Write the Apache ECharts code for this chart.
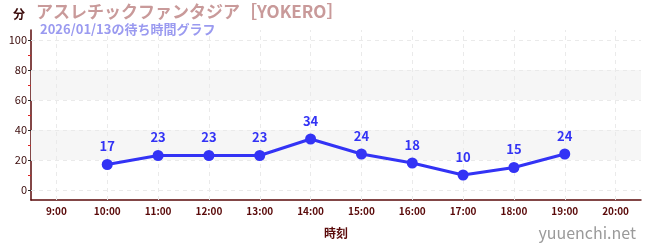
<!DOCTYPE html>
<html><head><meta charset="utf-8">
<script src="https://cdn.jsdelivr.net/npm/echarts@6/dist/echarts.min.js"></script>
<style>html,body{margin:0;padding:0;background:#fff}#c{width:650px;height:250px}</style>
</head><body><div id="c"></div>
<script>
const categories = ['9:00','10:00','11:00','12:00','13:00','14:00','15:00','16:00','17:00','18:00','19:00','20:00'];
const waitTimes = [null,17,23,23,23,34,24,18,10,15,24,null];
const yTicks = [0,20,40,60,80,100];
const yMinorTicks = [10,30,50,70,90];
const bands = [[20,40],[60,80]];
const titleText = 'アスレチックファンタジア［YOKERO］';
const subtitleText = '2026/01/13の待ち時間グラフ';
const yName = '分';
const xName = '時刻';
const watermark = 'yuuenchi.net';

const FONT = '"Noto Sans CJK JP", "Noto Sans", sans-serif';
const axisColor = '#5a0a0a';
const chart = echarts.init(document.getElementById('c'), null, {renderer:'canvas'});
chart.setOption({
  animation:false,
  textStyle:{fontFamily:FONT},
  title:[
    {text:titleText, left:36, top:3, padding:0, textStyle:{color:'#c99a9a', fontSize:17, fontWeight:'bold', fontFamily:FONT}},
    {text:subtitleText, left:40, top:23, padding:0, textStyle:{color:'#9a9af0', fontSize:13, fontWeight:'bold', fontFamily:FONT}},
    {text:yName, left:13, top:8, padding:0, textStyle:{color:'#3a0a0a', fontSize:12, fontWeight:'bold', fontFamily:FONT}},
    {text:watermark, right:14, top:225, padding:0, textStyle:{color:'#9a9a9a', fontSize:16, fontWeight:'normal', fontFamily:FONT}}
  ],
  grid:{left:31, right:9, top:30, bottom:50, containLabel:false},
  xAxis:{
    type:'category', data:categories, boundaryGap:true,
    name:xName, nameLocation:'middle', nameGap:27,
    nameTextStyle:{color:axisColor, fontSize:12, fontWeight:'bold', fontFamily:FONT},
    axisLine:{onZero:false, lineStyle:{color:axisColor, width:1.5}},
    axisTick:{show:true, alignWithLabel:true, inside:true, length:4, lineStyle:{color:'#666'}},
    axisLabel:{color:axisColor, fontSize:10, fontWeight:'bold', fontFamily:FONT, margin:6},
    splitLine:{show:false}
  },
  yAxis:[{
    type:'value', min:-20/3, max:320/3,
    axisLine:{show:true, onZero:false, lineStyle:{color:axisColor, width:1.5}},
    axisTick:{show:true, customValues:yTicks, length:3, lineStyle:{color:'#222'}},
    axisLabel:{customValues:yTicks, color:'#3a0a0a', fontSize:11, fontFamily:FONT, margin:4},
    splitLine:{show:false}
  },{
    type:'value', min:-20/3, max:320/3, position:'left',
    axisLine:{show:false, onZero:false},
    axisTick:{show:true, customValues:yMinorTicks, length:3, lineStyle:{color:'#dd2222'}},
    axisLabel:{show:false},
    splitLine:{show:false}
  }],
  series:[{
    type:'line', data:waitTimes, yAxisIndex:0,
    color:'#3333f5',
    lineStyle:{width:3, color:'#3333f5'},
    symbol:'circle', symbolSize:11,
    itemStyle:{color:'#3333f5'},
    label:{show:true, position:'top', distance:6, color:'#3333f5', fontSize:13, fontWeight:'bold', fontFamily:FONT},
    z:5,
    markArea:{silent:true, itemStyle:{color:'#f6f6f6'}, data:bands.map(b=>[{yAxis:b[0]},{yAxis:b[1]}])},
    markLine:{silent:true, symbol:'none', label:{show:false},
      lineStyle:{color:'#eaeaea', type:[4,4], width:1},
      data: yTicks.map(v=>({yAxis:v})).concat(categories.map(c=>({xAxis:c})))}
  }]
});
</script></body></html>
